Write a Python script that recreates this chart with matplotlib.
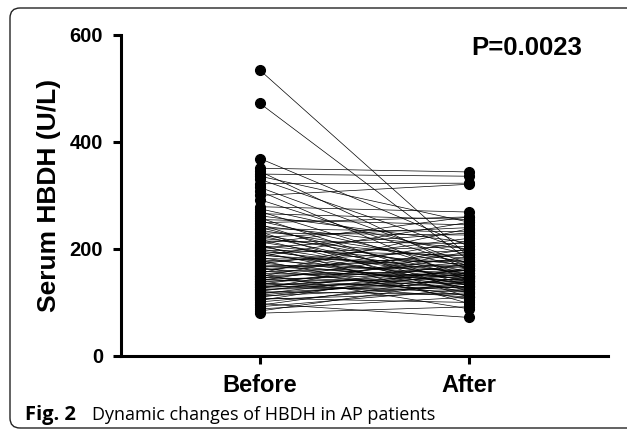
import matplotlib
matplotlib.use("Agg")
import matplotlib.pyplot as plt
from matplotlib.patches import FancyBboxPatch

# paired HBDH values (U/L)
groups = ["Before", "After"]
before = [
    534, 472, 369, 351, 345, 340, 336, 330, 322, 315,
    308, 300, 292, 279, 275, 270, 266, 262, 258, 255,
    252, 249, 246, 243, 240, 238, 235, 232, 230, 227,
    225, 222, 220, 218, 215, 213, 210, 208, 206, 204,
    202, 200, 198, 196, 194, 192, 190, 188, 186, 184,
    182, 180, 178, 176, 174, 172, 170, 168, 166, 165,
    163, 161, 159, 157, 155, 154, 152, 150, 149, 147,
    146, 144, 143, 141, 140, 138, 137, 135, 134, 132,
    131, 129, 128, 126, 125, 123, 121, 120, 118, 116,
    114, 112, 110, 108, 106, 104, 101, 98, 95, 92,
    88, 84, 80,
]
after = [
    185, 178, 205, 344, 160, 336, 250, 196, 323, 172,
    140, 321, 168, 269, 190, 150, 255, 212, 130, 245,
    165, 260, 120, 200, 148, 232, 175, 110, 226, 158,
    138, 240, 182, 125, 210, 152, 260, 98, 170, 145,
    230, 132, 188, 155, 118, 205, 142, 165, 250, 128,
    176, 150, 105, 198, 136, 220, 160, 145, 180, 112,
    140, 190, 125, 170, 238, 150, 88, 160, 215, 135,
    175, 122, 155, 200, 143, 168, 110, 130, 185, 152,
    120, 160, 140, 195, 128, 150, 172, 115, 138, 162,
    145, 130, 155, 100, 118, 165, 135, 72, 148, 125,
    110, 140, 92,
]
y_ticks = [0, 200, 400, 600]
p_text = "P=0.0023"
caption_bold = "Fig. 2"
caption_rest = "Dynamic changes of HBDH in AP patients"

plt.rcParams["font.family"] = ["Liberation Sans", "DejaVu Sans"]

fig = plt.figure(figsize=(6.27, 4.32), dpi=100)
ax = fig.add_axes([0.193, 0.176, 0.777, 0.743])

for b, a in zip(before, after):
    ax.plot([0, 1], [b, a], color="black", linewidth=0.5, zorder=2)
ax.plot([0] * len(before), before, "o", color="black", markersize=7, zorder=3)
ax.plot([1] * len(after), after, "o", color="black", markersize=7, zorder=3)

ax.set_xlim(-0.665, 1.665)
ax.set_ylim(0, 600)
ax.set_yticks(y_ticks)
ax.set_xticks([0, 1])
ax.set_xticklabels(groups)
for side in ("top", "right"):
    ax.spines[side].set_visible(False)
for side in ("left", "bottom"):
    ax.spines[side].set_linewidth(2.2)
ax.tick_params(axis="both", width=2.2, length=6)
ax.tick_params(axis="y", labelsize=14.5, pad=7)
ax.tick_params(axis="x", labelsize=17, pad=7)
for lab in ax.get_xticklabels() + ax.get_yticklabels():
    lab.set_fontweight("bold")
ax.set_ylabel("Serum HBDH (U/L)", fontsize=19, fontweight="bold", labelpad=6)

ax.text(527 / 627, 1 - 48 / 432, p_text, transform=fig.transFigure, fontsize=18.5,
        fontweight="bold", ha="center", va="center")

fig.text(25 / 627, 1 - 415 / 432, caption_bold, fontsize=14.5, fontweight="bold",
         family="Open Sans", va="center", ha="left")
fig.text(92 / 627, 1 - 415 / 432, caption_rest, fontsize=13,
         family="Open Sans", va="center", ha="left")

frame = FancyBboxPatch((0.10, 0.04), 6.4, 4.20,
                       boxstyle="round,pad=0,rounding_size=0.1",
                       transform=fig.dpi_scale_trans, facecolor="none",
                       edgecolor="#222222", linewidth=1.0)
fig.add_artist(frame)

fig.savefig("out.png", dpi=100)
